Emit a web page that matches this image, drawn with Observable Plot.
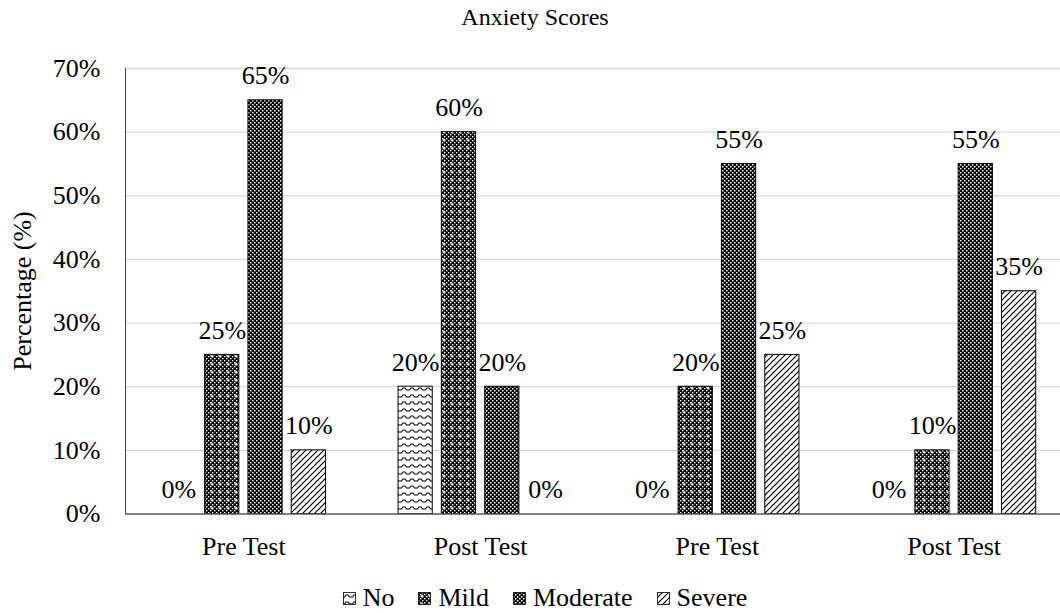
<!DOCTYPE html>
<html>
<head>
<meta charset="utf-8">
<script src="https://cdn.jsdelivr.net/npm/d3@7"></script>
<script src="https://cdn.jsdelivr.net/npm/@observablehq/plot@0.6"></script>
<style>
  html, body { margin: 0; padding: 0; background: #fff; overflow: hidden; }
  body { position: relative; width: 1060px; height: 613px; }
  #chart svg { display: block; }
  #legend {
    position: absolute; left: 15px; top: 583px; width: 1060px; height: 30px;
    display: flex; justify-content: center; align-items: center; gap: 24px;
    font-family: 'Liberation Serif', 'Times New Roman', serif; font-size: 26px; color: #000;
  }
  #legend .item { display: flex; align-items: center; gap: 7px; }
  #legend svg { display: block; }
</style>
</head>
<body>
<div id="chart"></div>
<div id="legend"></div>
<script>
// ---- Data ----
const groups = ["Pre Test", "Post Test", "Pre Test", "Post Test"];
const series = ["No", "Mild", "Moderate", "Severe"];
const noVals = [0, 20, 0, 0];
const mildVals = [25, 60, 20, 10];
const moderateVals = [65, 20, 55, 55];
const severeVals = [10, 0, 25, 35];
const yTicks = [0, 10, 20, 30, 40, 50, 60, 70];
const titleText = "Anxiety Scores";
const yTitle = "Percentage (%)";

const seriesValues = [noVals, mildVals, moderateVals, severeVals];

// layout in group units (one group = 1 unit on x)
const slotStep = 0.183, barW = 0.1445;
const span = 3 * slotStep + barW;

const data = [];
groups.forEach((g, gi) => series.forEach((s, si) => {
  const x1 = gi - span / 2 + si * slotStep;
  data.push({gi, group: g, s, si, value: seriesValues[si][gi], x1, x2: x1 + barW, xc: x1 + barW / 2});
}));

const W = 1060, H = 613;
const FONT = "Liberation Serif";
const FS = 26;

const svg = Plot.plot({
  width: W, height: H,
  marginTop: 68, marginBottom: 99.5, marginLeft: 125, marginRight: 0,
  style: {fontFamily: FONT, fontSize: FS + "px", color: "#000", background: "#fff", overflow: "visible"},
  x: {domain: [-0.5, 3.5], range: [125, 1072], axis: null},
  y: {domain: [0, 70], axis: null},
  marks: [
    Plot.ruleY(yTicks.filter(v => v > 0), {stroke: "#d9d9d9", strokeWidth: 1.3}),
    ...series.map((s, j) => Plot.rectY(data.filter(d => d.si === j && d.value > 0), {
      x1: "x1", x2: "x2", y1: 0, y2: "value",
      fill: `url(#pat${j})`, stroke: "#000", strokeWidth: 1
    })),
    Plot.ruleX([-0.5], {y1: 0, y2: 70, stroke: "#404040", strokeWidth: 1}),
    Plot.ruleY([0], {stroke: "#595959", strokeWidth: 1.6}),
    Plot.axisY({ticks: yTicks, tickSize: 0, tickPadding: 25, tickFormat: d => d + "%", label: null, fontSize: FS, fontFamily: FONT}),
    Plot.axisX({ticks: [0, 1, 2, 3], tickFormat: i => groups[i], tickSize: 0, tickPadding: 23, label: null, fontSize: FS, fontFamily: FONT}),
    Plot.text(data, {x: "xc", y: "value", text: d => d.value + "%", dy: -16, lineAnchor: "bottom", fontSize: FS, fontFamily: FONT, fill: "#000"})
  ]
});

document.getElementById("chart").appendChild(svg);

// ---- Patterns ----
const root = d3.select(svg);
const defs = root.insert("defs", ":first-child");

// No: wave pattern
{
  const p = defs.append("pattern").attr("id", "pat0").attr("patternUnits", "userSpaceOnUse").attr("width", 8).attr("height", 7);
  p.append("rect").attr("width", 8).attr("height", 7).attr("fill", "#fff");
  p.append("path").attr("d", "M0,5 L1.5,5 L3,3 L5,3 L6.5,5 L8,5").attr("fill", "none").attr("stroke", "#000").attr("stroke-width", 1.1);
}
// Mild: dark checker with white crosses
{
  const p = defs.append("pattern").attr("id", "pat1").attr("patternUnits", "userSpaceOnUse").attr("width", 8).attr("height", 8);
  p.append("rect").attr("width", 8).attr("height", 8).attr("fill", "#000");
  for (let y = 0; y < 8; y += 2) for (let x = 0; x < 8; x += 2) {
    if (((x / 2) + (y / 2)) % 2 === 0) p.append("rect").attr("x", x).attr("y", y).attr("width", 1.4).attr("height", 1.4).attr("fill", "#fff");
  }
  p.append("rect").attr("x", 2.5).attr("y", 3.5).attr("width", 3).attr("height", 1.2).attr("fill", "#fff");
  p.append("rect").attr("x", 3.4).attr("y", 2.5).attr("width", 1.2).attr("height", 3).attr("fill", "#fff");
}
// Moderate: dense checker
{
  const p = defs.append("pattern").attr("id", "pat2").attr("patternUnits", "userSpaceOnUse").attr("width", 4).attr("height", 4);
  p.append("rect").attr("width", 4).attr("height", 4).attr("fill", "#000");
  p.append("rect").attr("x", 0).attr("y", 0).attr("width", 1.5).attr("height", 1.5).attr("fill", "#fff");
  p.append("rect").attr("x", 2).attr("y", 2).attr("width", 1.5).attr("height", 1.5).attr("fill", "#fff");
}
// Severe: wide upward diagonal
{
  const p = defs.append("pattern").attr("id", "pat3").attr("patternUnits", "userSpaceOnUse").attr("width", 6).attr("height", 6);
  p.append("rect").attr("width", 6).attr("height", 6).attr("fill", "#fff");
  p.append("path").attr("d", "M0,6 L6,0 M-1,1 L1,-1 M5,7 L7,5").attr("stroke", "#000").attr("stroke-width", 1.2);
}

// ---- Title ----
root.append("text").attr("x", 535).attr("y", 25).attr("text-anchor", "middle")
  .style("font-family", FONT).style("font-size", "24px").style("fill", "#000").text(titleText);

// ---- Y title ----
root.append("text").attr("transform", "translate(22,291) rotate(-90)").attr("text-anchor", "middle")
  .attr("dy", "0.35em").style("font-family", FONT).style("font-size", FS + "px").style("fill", "#000").text(yTitle);

// ---- Legend (HTML) ----
const legend = d3.select("#legend");
series.forEach((s, j) => {
  const item = legend.append("div").attr("class", "item");
  const sv = item.append("svg").attr("width", 13).attr("height", 13);
  sv.append("rect").attr("x", 0.5).attr("y", 0.5).attr("width", 12).attr("height", 12)
    .attr("fill", `url(#pat${j})`).attr("stroke", "#000").attr("stroke-width", 0.8);
  item.append("span").text(s);
});
</script>
</body>
</html>
